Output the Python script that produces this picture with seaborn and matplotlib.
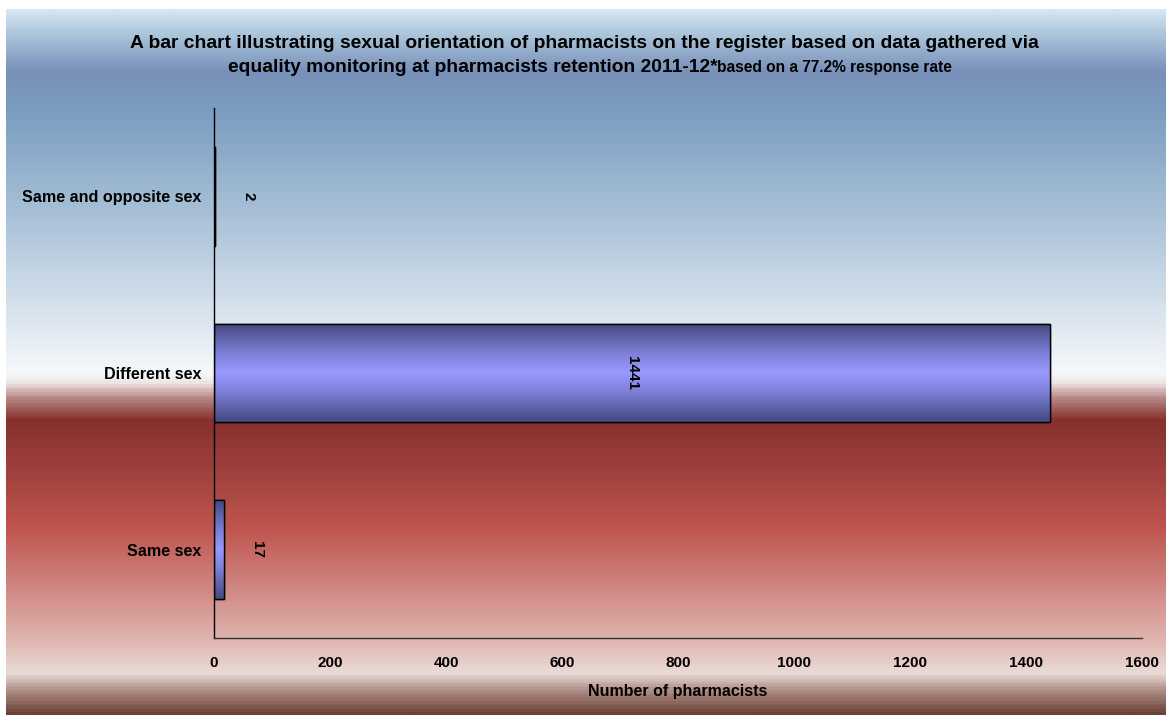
import numpy as np
import pandas as pd
import matplotlib
matplotlib.use("Agg")
import matplotlib.pyplot as plt
import seaborn as sns
from matplotlib.colors import LinearSegmentedColormap

categories = ["Same and opposite sex", "Different sex", "Same sex"]
values = [2, 1441, 17]
x_ticks = [0, 200, 400, 600, 800, 1000, 1200, 1400, 1600]
title_main = "A bar chart illustrating sexual orientation of pharmacists on the register based on data gathered via"
title_line2 = "equality monitoring at pharmacists retention 2011-12*"
title_note = "based on a 77.2% response rate"
x_label = "Number of pharmacists"

sns.set_theme(style="white")
plt.rcParams['font.family'] = ['Liberation Sans', 'DejaVu Sans']
plt.rcParams['text.color'] = 'black'
plt.rcParams['xtick.color'] = 'black'
plt.rcParams['ytick.color'] = 'black'
plt.rcParams['axes.labelcolor'] = 'black'

W, H = 1166, 715
fig = plt.figure(figsize=(W / 100, H / 100), dpi=100)
fig.patch.set_facecolor("white")

# Background gradient panel
ax_bg = fig.add_axes([0, 0, 1, 1], zorder=-10)
ax_bg.set_xlim(0, W)
ax_bg.set_ylim(H, 0)
ax_bg.axis("off")
y0, y1 = 9, H
stops = [(9, "#d6e5f1"), (35, "#a8c2d8"), (70, "#7890b9"), (110, "#7b9dc0"),
         (200, "#a2bcd4"), (280, "#c8d8e6"), (372, "#f6f8fb"), (382, "#f0e9e9"),
         (398, "#b88a88"), (420, "#86302d"), (470, "#9e403c"), (530, "#c0554f"),
         (590, "#d08884"), (640, "#dfb3ae"), (675, "#eadbd5"), (692, "#ae8e86"),
         (715, "#6e4238")]
cmap_bg = LinearSegmentedColormap.from_list(
    "bg", [((y - y0) / (y1 - y0), c) for y, c in stops])
grad = np.linspace(0, 1, 700).reshape(-1, 1)
ax_bg.imshow(grad, aspect="auto", cmap=cmap_bg, extent=[6, W, y1, y0], origin="upper")

# Main axes
L, R, T, B = 214, 1142, 108, 638
ax = fig.add_axes([L / W, 1 - B / H, (R - L) / W, (B - T) / H])
ax.set_facecolor("none")

df = pd.DataFrame({"category": categories, "value": values})
sns.barplot(data=df, x="value", y="category", order=categories, orient="h",
            color="#9999ff", edgecolor="black", linewidth=1.0, width=0.56, ax=ax)

# gradient fill on bars
bar_cmap = LinearSegmentedColormap.from_list(
    "bar", [(0, "#454a80"), (0.3, "#7c7fd6"), (0.5, "#9999ff"), (0.7, "#7c7fd6"), (1, "#454a80")])
for p in list(ax.patches):
    x, y = p.get_x(), p.get_y()
    w, h = p.get_width(), p.get_height()
    g = np.linspace(0, 1, 100).reshape(-1, 1)
    im = ax.imshow(g, aspect="auto", cmap=bar_cmap, extent=[x, x + w, y + h, y],
                   origin="upper", zorder=p.get_zorder() + 0.1)
    im.set_clip_path(p)
    edge = plt.Rectangle((x, y), w, h, fill=False, edgecolor="black", linewidth=1.0,
                         zorder=p.get_zorder() + 0.2)
    ax.add_patch(edge)
ax.set_xlim(0, 1600)
ax.set_ylim(2.5, -0.5)

# value labels
for i, v in enumerate(values):
    if v > 200:
        ax.text(v / 2, i, str(v), rotation=-90, ha="center", va="center",
                fontsize=11, fontweight="bold", color="black", zorder=5)
    else:
        ax.annotate(str(v), xy=(v, i), xytext=(24, 0), textcoords="offset points",
                    rotation=-90, ha="center", va="center",
                    fontsize=11, fontweight="bold", color="black", zorder=5)

ax.set_xticks(x_ticks)
ax.set_xticklabels([str(t) for t in x_ticks], fontsize=11, fontweight="bold", color="black")
ax.set_yticks(range(len(categories)))
ax.set_yticklabels(categories, fontsize=11.6, fontweight="bold", color="black")
ax.tick_params(axis="x", direction="out", length=4, width=1, color="#333333", pad=9)
ax.tick_params(axis="y", length=0, pad=9)
ax.set_xlabel(x_label, fontsize=11.5, fontweight="bold", labelpad=10, color="black")
ax.set_ylabel("")
for s in ["top", "right"]:
    ax.spines[s].set_visible(False)
ax.spines["left"].set_color("black")
ax.spines["left"].set_linewidth(1)
ax.spines["bottom"].set_color("#333333")
ax.spines["bottom"].set_linewidth(1)

# Title
fig.text(584 / W, 1 - 43 / H, title_main, ha="center", va="center", fontsize=13.9,
         fontweight="bold", color="black")
renderer = fig.canvas.get_renderer()
t1 = fig.text(0, 0, title_line2, ha="left", va="baseline", fontsize=13.9,
              fontweight="bold", color="black")
t2 = fig.text(0, 0, title_note, ha="left", va="baseline", fontsize=11.2,
              fontweight="bold", color="black")
w1 = t1.get_window_extent(renderer).width
w2 = t2.get_window_extent(renderer).width
start = 590 - (w1 + w2) / 2
base = 1 - 72 / H
t1.set_position((start / W, base))
t2.set_position(((start + w1) / W, base))

fig.savefig("out.png", dpi=100, facecolor=fig.get_facecolor())
